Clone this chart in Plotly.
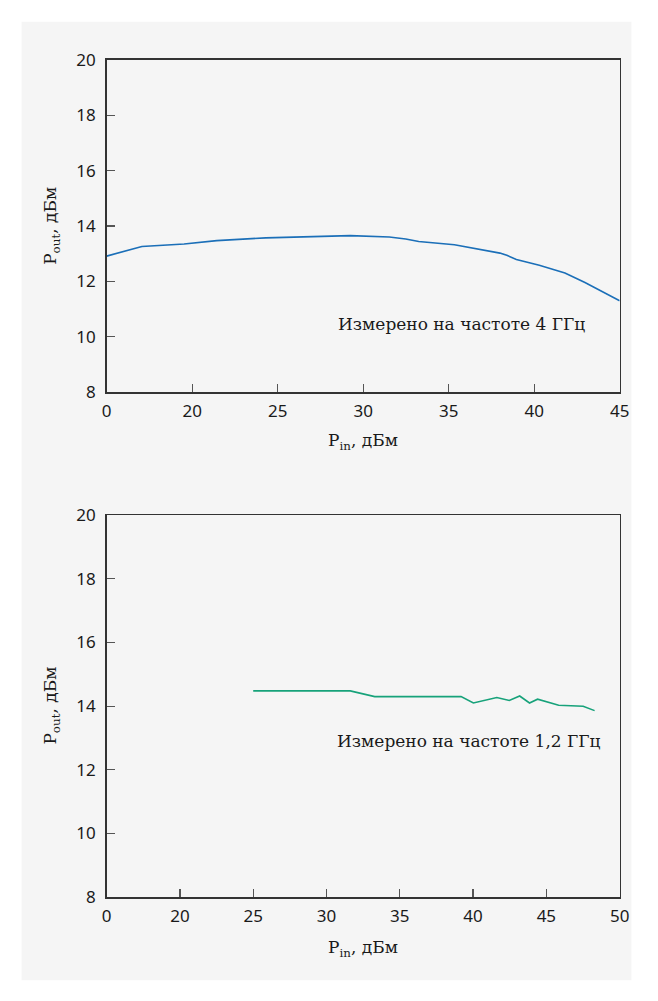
import plotly.graph_objects as go

# ---- data ----
top_x = [15, 17.06, 19.53, 21.44, 24.3, 26.96, 29.25, 31.53, 32.49, 33.25, 35.34, 38.0, 38.4, 38.96, 40.3, 41.8, 42.97, 45]
top_y = [12.91, 13.26, 13.35, 13.47, 13.57, 13.62, 13.65, 13.60, 13.53, 13.44, 13.32, 13.02, 12.94, 12.79, 12.58, 12.30, 11.96, 11.30]

bot_x = [25, 31.62, 33.29, 39.18, 40.02, 41.62, 42.47, 43.18, 43.85, 44.4, 45.84, 47.51, 48.29]
bot_y = [14.48, 14.48, 14.30, 14.30, 14.10, 14.27, 14.18, 14.32, 14.10, 14.22, 14.03, 14.00, 13.86]

top_tickvals = [15, 20, 25, 30, 35, 40, 45]
top_ticktext = ["0", "20", "25", "30", "35", "40", "45"]
bot_tickvals = [15, 20, 25, 30, 35, 40, 45, 50]
bot_ticktext = ["0", "20", "25", "30", "35", "40", "45", "50"]
y_tickvals = [8, 10, 12, 14, 16, 18, 20]

W, H = 658, 1001
GRAY = "#f5f5f5"

fig = go.Figure()
fig.add_trace(go.Scatter(x=top_x, y=top_y, mode="lines", line=dict(color="#1b6fb8", width=1.6),
                         xaxis="x", yaxis="y", showlegend=False, hoverinfo="skip"))
fig.add_trace(go.Scatter(x=bot_x, y=bot_y, mode="lines", line=dict(color="#17a27a", width=1.6),
                         xaxis="x2", yaxis="y2", showlegend=False, hoverinfo="skip"))

tickfont = dict(family="Noto Sans", size=17, color="#1a1a1a")
axis_common = dict(showgrid=False, zeroline=False, showline=True, mirror=True,
                   linecolor="#333333", linewidth=1.5, ticks="inside", ticklen=8,
                   tickwidth=1.2, tickcolor="#555555", tickfont=tickfont)

def px_x(p):
    return p / W

def px_y(p):
    return (H - p) / H

fig.update_layout(
    width=W, height=H,
    margin=dict(l=0, r=0, t=0, b=0),
    paper_bgcolor="white",
    plot_bgcolor=GRAY,
    xaxis=dict(domain=[px_x(104), px_x(629)], range=[15, 45], tickvals=top_tickvals,
               ticktext=top_ticktext, anchor="y", ticklabelstandoff=3, **axis_common),
    yaxis=dict(domain=[px_y(389), px_y(49)], range=[8, 20], tickvals=y_tickvals,
               anchor="x", ticklabelstandoff=6, **axis_common),
    xaxis2=dict(domain=[px_x(104), px_x(629)], range=[15, 50], tickvals=bot_tickvals,
                ticktext=bot_ticktext, anchor="y2", ticklabelstandoff=3, **axis_common),
    yaxis2=dict(domain=[px_y(906), px_y(515)], range=[8, 20], tickvals=y_tickvals,
                anchor="x2", ticklabelstandoff=6, **axis_common),
    shapes=[dict(type="rect", xref="paper", yref="paper",
                 x0=px_x(17), x1=px_x(641), y0=px_y(991), y1=px_y(10),
                 fillcolor=GRAY, line=dict(width=0), layer="below")],
)

serif = dict(family="DejaVu Serif", size=17, color="#1a1a1a")
ann = [
    dict(x=35.74, y=10.45, xref="x", yref="y", text="Измерено на частоте 4 ГГц",
         showarrow=False, font=serif, xanchor="center", yanchor="middle"),
    dict(x=39.73, y=12.91, xref="x2", yref="y2", text="Измерено на частоте 1,2 ГГц",
         showarrow=False, font=serif, xanchor="center", yanchor="middle"),
    dict(x=px_x(48), y=px_y(219), xref="paper", yref="paper", text="P<sub>out</sub>, дБм",
         textangle=-90, showarrow=False, font=serif, xanchor="center", yanchor="middle"),
    dict(x=px_x(48), y=px_y(710), xref="paper", yref="paper", text="P<sub>out</sub>, дБм",
         textangle=-90, showarrow=False, font=serif, xanchor="center", yanchor="middle"),
    dict(x=px_x(366), y=px_y(440), xref="paper", yref="paper", text="P<sub>in</sub>, дБм",
         showarrow=False, font=serif, xanchor="center", yanchor="middle"),
    dict(x=px_x(366), y=px_y(959), xref="paper", yref="paper", text="P<sub>in</sub>, дБм",
         showarrow=False, font=serif, xanchor="center", yanchor="middle"),
]
fig.update_layout(annotations=ann)

fig.write_html("out.html", config={"staticPlot": True},
               post_script="document.body.style.margin='0';document.body.style.overflow='hidden';")
